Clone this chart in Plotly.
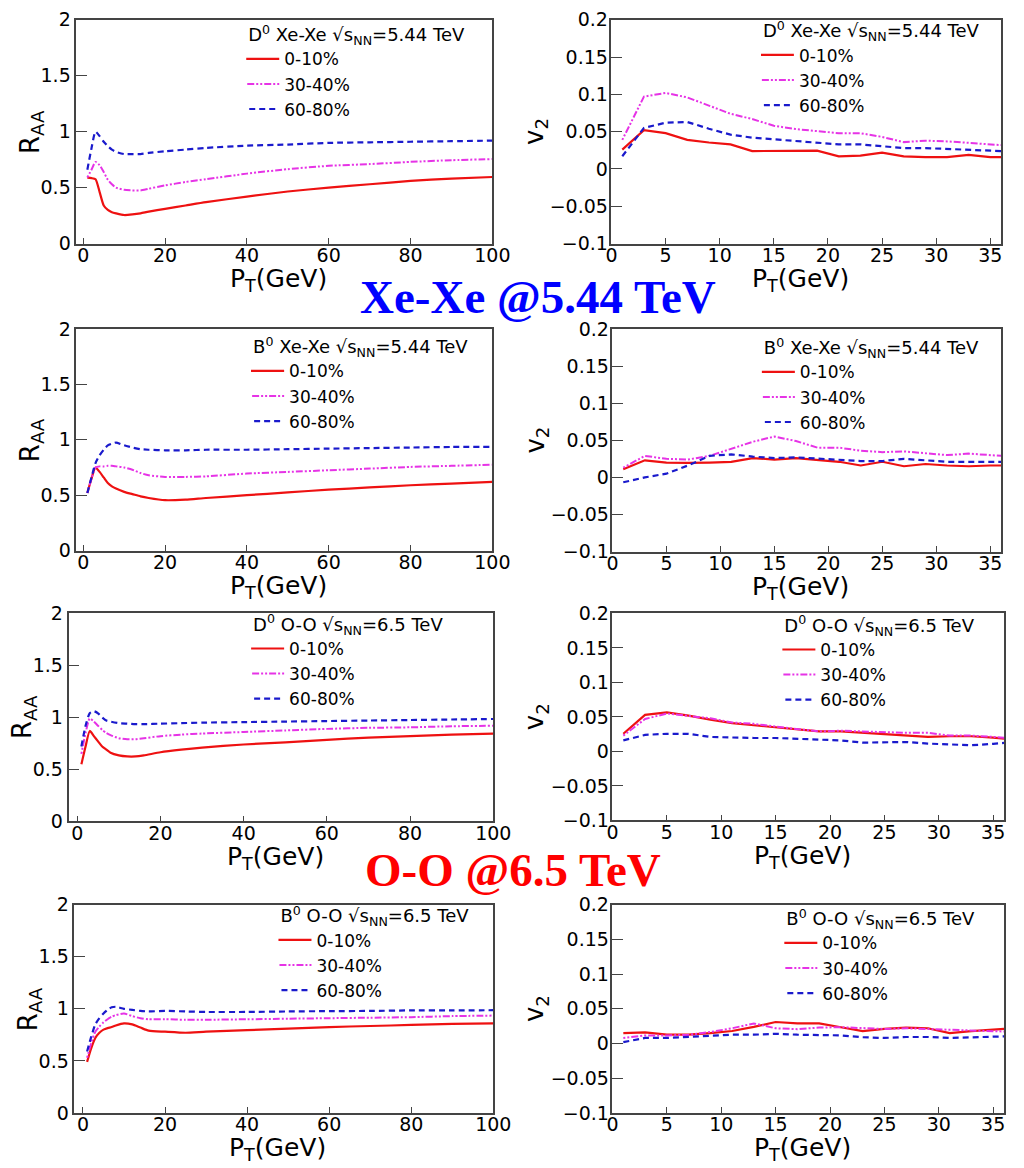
import plotly.graph_objects as go

# ---------------- data ----------------
pt_raa = [1, 2, 3, 4, 5, 6, 7, 8, 10, 12, 14, 16, 20, 25, 30, 40, 50, 60, 70, 80, 90, 100]
pt_v2 = [1, 3, 5, 7, 9, 11, 13, 15, 17, 19, 21, 23, 25, 27, 29, 31, 33, 35, 36]
centralities = ["0-10%", "30-40%", "60-80%"]

# D0 Xe-Xe RAA
d_xexe_raa_c0 = [0.59, 0.585, 0.575, 0.46, 0.34, 0.30, 0.28, 0.27, 0.255, 0.26, 0.27, 0.285, 0.31, 0.34, 0.37, 0.42, 0.465, 0.50, 0.53, 0.56, 0.58, 0.595]
d_xexe_raa_c1 = [0.59, 0.66, 0.73, 0.70, 0.64, 0.57, 0.53, 0.50, 0.48, 0.475, 0.475, 0.49, 0.52, 0.55, 0.575, 0.625, 0.665, 0.695, 0.71, 0.73, 0.745, 0.755]
d_xexe_raa_c2 = [0.66, 0.85, 1.0, 0.96, 0.91, 0.87, 0.84, 0.82, 0.80, 0.80, 0.80, 0.81, 0.825, 0.84, 0.855, 0.875, 0.885, 0.90, 0.905, 0.91, 0.915, 0.92]
# D0 Xe-Xe v2
d_xexe_v2_c0 = [0.026, 0.052, 0.048, 0.039, 0.0355, 0.033, 0.024, 0.0245, 0.0245, 0.0245, 0.017, 0.018, 0.022, 0.017, 0.016, 0.016, 0.019, 0.016, 0.016]
d_xexe_v2_c1 = [0.039, 0.097, 0.102, 0.096, 0.085, 0.074, 0.067, 0.058, 0.0535, 0.051, 0.048, 0.048, 0.043, 0.036, 0.038, 0.037, 0.035, 0.033, 0.032]
d_xexe_v2_c2 = [0.017, 0.055, 0.062, 0.063, 0.054, 0.046, 0.042, 0.040, 0.038, 0.0355, 0.033, 0.033, 0.030, 0.028, 0.028, 0.027, 0.026, 0.025, 0.024]
# B0 Xe-Xe RAA
b_xexe_raa_c0 = [0.52, 0.65, 0.75, 0.71, 0.66, 0.61, 0.58, 0.56, 0.53, 0.51, 0.49, 0.475, 0.455, 0.46, 0.475, 0.50, 0.525, 0.55, 0.57, 0.59, 0.605, 0.62]
b_xexe_raa_c1 = [0.52, 0.65, 0.75, 0.76, 0.76, 0.765, 0.765, 0.76, 0.75, 0.73, 0.70, 0.68, 0.665, 0.665, 0.67, 0.695, 0.71, 0.725, 0.74, 0.755, 0.765, 0.775]
b_xexe_raa_c2 = [0.52, 0.66, 0.79, 0.86, 0.91, 0.95, 0.965, 0.975, 0.95, 0.93, 0.915, 0.91, 0.905, 0.905, 0.91, 0.91, 0.915, 0.92, 0.925, 0.93, 0.935, 0.935]
# B0 Xe-Xe v2
b_xexe_v2_c0 = [0.011, 0.023, 0.020, 0.0195, 0.020, 0.021, 0.026, 0.024, 0.026, 0.023, 0.021, 0.016, 0.021, 0.015, 0.018, 0.016, 0.015, 0.016, 0.016]
b_xexe_v2_c1 = [0.013, 0.029, 0.025, 0.024, 0.029, 0.038, 0.048, 0.055, 0.049, 0.040, 0.040, 0.036, 0.034, 0.035, 0.032, 0.030, 0.032, 0.030, 0.029]
b_xexe_v2_c2 = [-0.0066, 0.0, 0.005, 0.016, 0.029, 0.031, 0.028, 0.026, 0.027, 0.025, 0.024, 0.022, 0.022, 0.025, 0.023, 0.021, 0.021, 0.021, 0.021]
# D0 O-O RAA
d_oo_raa_c0 = [0.55, 0.72, 0.87, 0.82, 0.77, 0.72, 0.69, 0.66, 0.635, 0.625, 0.625, 0.635, 0.665, 0.69, 0.71, 0.74, 0.76, 0.785, 0.805, 0.82, 0.835, 0.845]
d_oo_raa_c1 = [0.65, 0.85, 0.99, 0.96, 0.92, 0.88, 0.85, 0.83, 0.80, 0.79, 0.79, 0.80, 0.82, 0.835, 0.845, 0.86, 0.875, 0.89, 0.90, 0.905, 0.915, 0.92]
d_oo_raa_c2 = [0.72, 0.92, 1.04, 1.06, 1.04, 1.00, 0.97, 0.96, 0.945, 0.94, 0.935, 0.935, 0.94, 0.945, 0.95, 0.955, 0.96, 0.965, 0.97, 0.975, 0.98, 0.985]
# D0 O-O v2
d_oo_v2_c0 = [0.0256, 0.053, 0.0565, 0.052, 0.046, 0.041, 0.038, 0.035, 0.031, 0.029, 0.029, 0.027, 0.0256, 0.023, 0.021, 0.022, 0.022, 0.020, 0.0185]
d_oo_v2_c1 = [0.023, 0.047, 0.055, 0.052, 0.048, 0.042, 0.040, 0.036, 0.033, 0.029, 0.030, 0.029, 0.027, 0.027, 0.027, 0.023, 0.023, 0.021, 0.020]
d_oo_v2_c2 = [0.016, 0.024, 0.0256, 0.0256, 0.021, 0.020, 0.0195, 0.0195, 0.0185, 0.017, 0.016, 0.0128, 0.0137, 0.0137, 0.0114, 0.0104, 0.009, 0.011, 0.0123]
# B0 O-O RAA
b_oo_raa_c0 = [0.49, 0.62, 0.72, 0.77, 0.80, 0.815, 0.825, 0.84, 0.86, 0.85, 0.82, 0.79, 0.78, 0.77, 0.78, 0.795, 0.81, 0.825, 0.835, 0.845, 0.855, 0.86]
b_oo_raa_c1 = [0.53, 0.67, 0.78, 0.83, 0.87, 0.90, 0.925, 0.94, 0.955, 0.93, 0.91, 0.90, 0.90, 0.895, 0.895, 0.90, 0.905, 0.91, 0.915, 0.92, 0.93, 0.935]
b_oo_raa_c2 = [0.59, 0.73, 0.85, 0.91, 0.955, 0.99, 1.015, 1.02, 1.0, 0.99, 0.98, 0.975, 0.98, 0.975, 0.97, 0.97, 0.975, 0.978, 0.98, 0.985, 0.985, 0.987]
# B0 O-O v2
b_oo_v2_c0 = [0.015, 0.016, 0.0127, 0.0127, 0.015, 0.018, 0.024, 0.031, 0.029, 0.029, 0.0235, 0.018, 0.021, 0.023, 0.022, 0.015, 0.018, 0.020, 0.021]
b_oo_v2_c1 = [0.008, 0.0117, 0.0117, 0.0127, 0.0165, 0.022, 0.029, 0.022, 0.0207, 0.023, 0.0235, 0.022, 0.021, 0.022, 0.0207, 0.0197, 0.018, 0.0177, 0.0174]
b_oo_v2_c2 = [0.002, 0.008, 0.008, 0.0094, 0.0117, 0.0127, 0.0127, 0.014, 0.0127, 0.0127, 0.0117, 0.009, 0.008, 0.0094, 0.0094, 0.008, 0.009, 0.010, 0.0103]

panel_titles = [
    "D<sup>0</sup> Xe-Xe √s<sub>NN</sub>=5.44 TeV",
    "D<sup>0</sup> Xe-Xe √s<sub>NN</sub>=5.44 TeV",
    "B<sup>0</sup> Xe-Xe √s<sub>NN</sub>=5.44 TeV",
    "B<sup>0</sup> Xe-Xe √s<sub>NN</sub>=5.44 TeV",
    "D<sup>0</sup> O-O √s<sub>NN</sub>=6.5 TeV",
    "D<sup>0</sup> O-O √s<sub>NN</sub>=6.5 TeV",
    "B<sup>0</sup> O-O √s<sub>NN</sub>=6.5 TeV",
    "B<sup>0</sup> O-O √s<sub>NN</sub>=6.5 TeV",
]
left_ticks = [0, 20, 40, 60, 80, 100]
right_ticks = [0, 5, 10, 15, 20, 25, 30, 35]

# ---------------- layout helpers ----------------
W, H = 1024, 1168
FONT = "DejaVu Sans"

def px(x):
    return x / W

def py(y):
    return 1 - y / H

panels = [
    # kind, series, frame (x0,x1,y0,y1) in px, xrange, legend anchor (x, ytop) in px
    ("raa", [d_xexe_raa_c0, d_xexe_raa_c1, d_xexe_raa_c2], (72, 498, 9, 237), [-1.7, 100], (246, 7)),
    ("v2", [d_xexe_v2_c0, d_xexe_v2_c1, d_xexe_v2_c2], (620, 1019, 9, 237), [0, 36], (773, 3)),
    ("raa", [b_xexe_raa_c0, b_xexe_raa_c1, b_xexe_raa_c2], (72, 498, 324, 550), [-1.7, 100], (251, 325)),
    ("v2", [b_xexe_v2_c0, b_xexe_v2_c1, b_xexe_v2_c2], (621, 1019, 324, 551), [0, 36], (774, 326)),
    ("raa", [d_oo_raa_c0, d_oo_raa_c1, d_oo_raa_c2], (64, 499, 614, 826), [-2.1, 100], (251, 608)),
    ("v2", [d_oo_v2_c0, d_oo_v2_c1, d_oo_v2_c2], (621, 1022, 614, 825), [0, 36], (795, 609)),
    ("raa", [b_oo_raa_c0, b_oo_raa_c1, b_oo_raa_c2], (70, 499, 911, 1123), [-2.1, 100], (279, 905)),
    ("v2", [b_oo_v2_c0, b_oo_v2_c1, b_oo_v2_c2], (621, 1022, 911, 1123), [0, 36], (797, 908)),
]

colors = ["#ee1111", "#e633e6", "#1a1acc"]
dashes = ["solid", "2px,2px,2px,2px,7px,2px", "6px,4px"]
widths = [2.2, 2.0, 2.2]

fig = go.Figure()
layout = dict(
    width=W, height=H,
    margin=dict(l=0, r=0, t=0, b=0),
    paper_bgcolor="white", plot_bgcolor="white",
    font=dict(family=FONT, size=18, color="black"),
    annotations=[],
)

for i, (kind, series, frame, xr, leg) in enumerate(panels):
    n = i + 1
    xs = pt_raa if kind == "raa" else pt_v2
    legname = "legend" if n == 1 else f"legend{n}"
    for j, ys in enumerate(series):
        fig.add_trace(go.Scatter(
            x=xs, y=ys, mode="lines", name=centralities[j],
            line=dict(color=colors[j], dash=dashes[j], width=widths[j],
                      shape="spline" if kind == "raa" else "linear",
                      smoothing=0.6 if kind == "raa" else 0),
            xaxis=f"x{n}", yaxis=f"y{n}", legend=legname, showlegend=True,
        ))
    x0, x1, y0, y1 = frame
    axis_common = dict(showline=True, mirror=True, linecolor="#444", linewidth=1.5,
                       ticks="inside", tickcolor="#444", showgrid=False, zeroline=False,
                       tickfont=dict(family=FONT, size=19, color="black"))
    xa = dict(axis_common, domain=[px(x0), px(x1)], range=xr, anchor=f"y{n}",
              tickvals=left_ticks if kind == "raa" else right_ticks, ticklen=6,
              ticklabelstandoff=-6)
    if kind == "raa":
        ya = dict(axis_common, domain=[py(y1), py(y0)], range=[0, 2], dtick=0.5, tick0=0,
                  anchor=f"x{n}", ticklen=11)
    else:
        ya = dict(axis_common, domain=[py(y1), py(y0)], range=[-0.1, 0.2], dtick=0.05, tick0=0,
                  anchor=f"x{n}", ticklen=11, ticklabelstandoff=-2)
    layout[f"xaxis{n}"] = xa
    layout[f"yaxis{n}"] = ya
    layout[legname] = dict(
        x=px(leg[0]), y=py(leg[1]), xanchor="left", yanchor="top",
        bgcolor="rgba(0,0,0,0)", borderwidth=0,
        font=dict(family=FONT, size=17, color="black"),
        title=dict(text=panel_titles[i], font=dict(family=FONT, size=18, color="black")),
        itemwidth=40, tracegroupgap=0, indentation=-12,
    )
    # axis titles
    ytitle = "R<sub>AA</sub>" if kind == "raa" else "v<sub>2</sub>"
    ytx = (x0 - 46) if kind == "raa" else (x0 - 78)
    layout["annotations"].append(dict(
        text=ytitle, x=px(ytx), y=py((y0 + y1) / 2), xref="paper", yref="paper",
        textangle=-90, showarrow=False, font=dict(family=FONT, size=26, color="black"),
        xanchor="center", yanchor="middle"))
    layout["annotations"].append(dict(
        text="P<sub>T</sub>(GeV)", x=px((x0 + x1) / 2 - 6), y=py(y1 + 37), xref="paper", yref="paper",
        showarrow=False, font=dict(family=FONT, size=25, color="black"),
        xanchor="center", yanchor="middle"))

layout["annotations"].append(dict(
    text="<b>Xe-Xe @5.44 TeV</b>", x=px(545), y=py(291), xref="paper", yref="paper",
    showarrow=False, font=dict(family="Liberation Serif", size=47, color="#0000ff"),
    xanchor="center", yanchor="middle"))
layout["annotations"].append(dict(
    text="<b>O-O @6.5 TeV</b>", x=px(519), y=py(875), xref="paper", yref="paper",
    showarrow=False, font=dict(family="Liberation Serif", size=47, color="#ff0000"),
    xanchor="center", yanchor="middle"))

fig.update_layout(**layout)
fig.write_html("out.html")
